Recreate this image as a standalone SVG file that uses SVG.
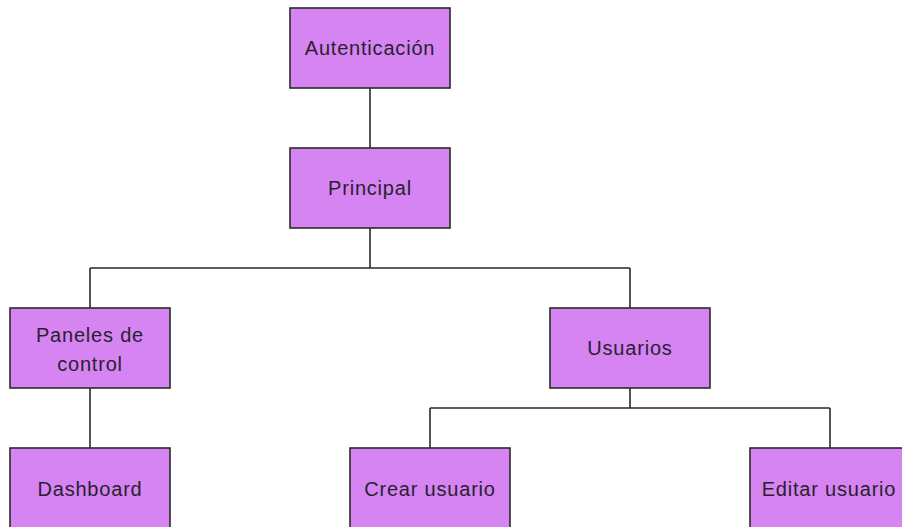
<svg xmlns="http://www.w3.org/2000/svg" width="902" height="527" viewBox="0 0 902 527">
<style>
.box{fill:#D584F2;stroke:#2a2a2a;stroke-width:1.6}
.lbl{font-family:"Liberation Sans",Arial,sans-serif;font-size:20px;letter-spacing:0.8px;fill:#2a1f30;text-anchor:middle}
.conn{fill:none;stroke:#2a2a2a;stroke-width:1.6}
</style>
<rect width="902" height="527" fill="#ffffff"/>
<g id="connectors">
<path class="conn" d="M370 88 V148"/>
<path class="conn" d="M370 228 V268 M90 268 H630 M90 268 V308 M630 268 V308"/>
<path class="conn" d="M90 388 V448"/>
<path class="conn" d="M630 388 V408 M430 408 H830 M430 408 V448 M830 408 V448"/>
</g>
<g id="autenticacion"><rect class="box" x="290" y="8" width="160" height="80"/><text class="lbl" x="370" y="55">Autenticación</text></g>
<g id="principal"><rect class="box" x="290" y="148" width="160" height="80"/><text class="lbl" x="370" y="195">Principal</text></g>
<g id="paneles"><rect class="box" x="10" y="308" width="160" height="80"/><text class="lbl" x="90" y="342">Paneles de</text><text class="lbl" x="90" y="371">control</text></g>
<g id="usuarios"><rect class="box" x="550" y="308" width="160" height="80"/><text class="lbl" x="630" y="355">Usuarios</text></g>
<g id="dashboard"><rect class="box" x="10" y="448" width="160" height="80"/><text class="lbl" x="90" y="496">Dashboard</text></g>
<g id="crear"><rect class="box" x="350" y="448" width="160" height="80"/><text class="lbl" x="430" y="496">Crear usuario</text></g>
<g id="editar"><rect class="box" x="750" y="448" width="160" height="80"/><text class="lbl" x="829" y="496">Editar usuario</text></g>
</svg>
